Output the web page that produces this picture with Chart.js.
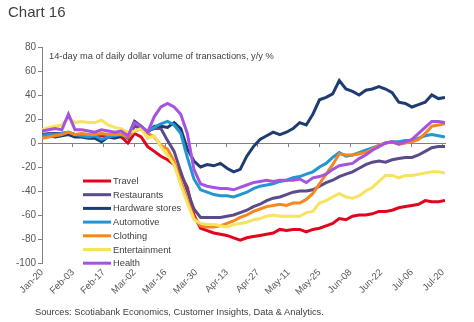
<!DOCTYPE html>
<html>
<head>
<meta charset="utf-8">
<script src="https://cdn.jsdelivr.net/npm/chart.js@4.4.1/dist/chart.umd.min.js"></script>
<style>
  html, body { margin: 0; padding: 0; background: #fff; }
  #wrap { position: relative; width: 474px; height: 322px; font-family: "Liberation Sans", Arial, sans-serif; color: #404040; }
  #title { position: absolute; left: 8px; top: 3px; font-size: 15px; }
  #source { position: absolute; left: 35px; top: 307px; font-size: 9.3px; white-space: nowrap; }
  canvas { position: absolute; left: 0; top: 0; }
</style>
</head>
<body>
<div id="wrap">
  <canvas id="chart16" width="474" height="322"></canvas>
  <div id="title">Chart 16</div>
  <div id="source">Sources: Scotiabank Economics, Customer Insights, Data &amp; Analytics.</div>
</div>
<script>
// days since Jan-20, sampled every 3 days
const days = [0, 3, 6, 9, 12, 15, 18, 21, 24, 27, 30, 33, 36, 39, 42, 45, 48, 51, 54, 57,
  60, 63, 66, 69, 72, 75, 78, 81, 84, 87, 90, 93, 96, 99, 102, 105, 108, 111, 114, 117,
  120, 123, 126, 129, 132, 135, 138, 141, 144, 147, 150, 153, 156, 159, 162, 165, 168, 171, 174, 177,
  180, 183];

const tickDays = [0, 14, 28, 42, 56, 70, 84, 98, 112, 126, 140, 154, 168, 182];
const tickLabels = ["Jan-20", "Feb-03", "Feb-17", "Mar-02", "Mar-16", "Mar-30", "Apr-13",
  "Apr-27", "May-11", "May-25", "Jun-08", "Jun-22", "Jul-06", "Jul-20"];

const travel = [6, 7, 7, 7, 8, 7, 6, 6, 6, 6, 6, 5, 5, 0, 8, 5, -3, -7, -11, -14,
  -18, -26, -37, -60, -71, -73, -75, -76, -77, -79, -81, -79, -78, -77, -76, -75, -72, -73, -72, -72,
  -74, -72, -71, -69, -67, -63, -64, -61, -60, -60, -59, -57, -57, -56, -54, -53, -52, -51, -48, -49,
  -49, -48];
const restaurants = [7, 8, 8, 8, 9, 7, 7, 6, 6, 7, 7, 6, 7, 4, 14, 12, 10, 12, 12, 2,
  -7, -24, -40, -55, -62, -62, -62, -62, -61, -60, -58, -56, -53, -51, -48, -46, -45, -43, -41, -40,
  -40, -39, -36, -33, -31, -28, -26, -24, -21, -18, -16, -15, -16, -14, -13, -12, -12, -10, -7, -4,
  -3, -3];
const hardware = [5, 6, 5, 6, 7, 5, 5, 4, 4, 1, 5, 4, 6, 5, 18, 14, 9, 14, 14, 13,
  17, 12, -5, -15, -20, -18, -19, -17, -21, -24, -22, -11, -3, 3, 6, 9, 7, 9, 12, 17,
  15, 24, 36, 38, 41, 52, 45, 43, 40, 44, 45, 47, 45, 42, 34, 33, 30, 32, 34, 40,
  37, 38];
const automotive = [6, 7, 7, 8, 9, 7, 6, 5, 6, 3, 5, 6, 7, 5, 10, 12, 10, 13, 16, 18,
  15, 8, -12, -30, -39, -41, -43, -44, -44, -45, -43, -41, -38, -36, -35, -34, -32, -31, -29, -28,
  -26, -24, -20, -17, -12, -8, -11, -10, -8, -6, -4, -2, 0, 1, 1, 2, 2, 4, 6, 7,
  6, 5];
const clothing = [4, 5, 6, 7, 9, 7, 8, 7, 7, 8, 7, 7, 7, 5, 10, 12, 8, 5, -2, -5,
  -15, -32, -48, -62, -69, -70, -70, -69, -67, -65, -62, -60, -57, -55, -53, -52, -51, -52, -50, -50,
  -47, -42, -34, -26, -18, -9, -10, -10, -9, -8, -5, -2, 0, 1, -1, 0, 1, 3, 8, 14,
  15, 16];
const entertainment = [11, 13, 14, 15, 21, 17, 18, 17, 17, 19, 15, 13, 12, 9, 10, 12, 4, 6, -3, -10,
  -18, -35, -50, -64, -67, -68, -68, -69, -70, -68, -67, -66, -64, -63, -61, -60, -61, -61, -61, -61,
  -58, -57, -50, -48, -45, -42, -45, -46, -44, -40, -37, -32, -27, -27, -29, -27, -27, -26, -25, -24,
  -24, -25];
const health = [10, 11, 12, 11, 24, 11, 11, 10, 9, 11, 10, 9, 10, 6, 17, 14, 9, 22, 30, 33,
  30, 24, 8, -22, -34, -36, -37, -38, -38, -39, -37, -35, -33, -32, -31, -32, -31, -31, -31, -30,
  -33, -29, -28, -26, -22, -19, -18, -17, -13, -10, -6, -3, 0, 1, -1, 1, 3, 8, 13, 18,
  18, 17];

const seriesNames = ["Travel", "Restaurants", "Hardware stores", "Automotive", "Clothing", "Entertainment", "Health"];
const seriesValues = [travel, restaurants, hardware, automotive, clothing, entertainment, health];
const seriesColors = ["#e2051e", "#5b4b8a", "#1f3c72", "#2196d3", "#f7861f", "#f6e35f", "#a653df"];

const noteText = "14-day ma of daily dollar volume of transactions, y/y %";
const FONT = '"Liberation Sans", Arial, sans-serif';

const datasets = seriesNames.map((name, i) => ({
  label: name,
  data: days.map((d, j) => ({ x: d, y: seriesValues[i][j] })),
  borderColor: seriesColors[i],
  backgroundColor: seriesColors[i],
  borderWidth: 3,
  pointRadius: 0,
  tension: 0,
  order: seriesNames.length - i // later series drawn on top, like the original
}));

// note text and in-plot legend
const overlay = {
  id: "overlay",
  afterDraw(chart) {
    const { ctx, chartArea: a } = chart;
    ctx.save();
    ctx.fillStyle = "#404040";
    ctx.textBaseline = "middle";
    ctx.font = "9.3px " + FONT;
    ctx.fillText(noteText, a.left + 7, a.top + 9);
    ctx.font = "9.3px " + FONT;
    chart.data.datasets.forEach((ds, i) => {
      const y = a.top + 134 + i * 13.7;
      ctx.strokeStyle = ds.borderColor;
      ctx.lineWidth = 3;
      ctx.beginPath();
      ctx.moveTo(a.left + 41, y);
      ctx.lineTo(a.left + 69, y);
      ctx.stroke();
      ctx.fillText(ds.label, a.left + 71, y + 0.5);
    });
    ctx.restore();
  }
};

const config = {
  type: "line",
  data: { datasets: datasets },
  options: {
    responsive: false,
    animation: false,
    layout: { padding: { left: 0, top: 47, right: 29, bottom: 0 } },
    plugins: { legend: { display: false }, tooltip: { enabled: false } },
    scales: {
      x: {
        type: "linear",
        min: 0,
        max: 183,
        afterBuildTicks: (scale) => { scale.ticks = tickDays.map(v => ({ value: v })); },
        afterFit: (scale) => { scale.height = 59; },
        grid: { display: false },
        border: { display: false },
        ticks: {
          minRotation: 45,
          maxRotation: 45,
          padding: -4,
          color: "#595959",
          font: { family: FONT, size: 9.5 },
          callback: (v, i) => tickLabels[i]
        }
      },
      zero: {
        type: "linear",
        axis: "x",
        position: { y: 0 },
        min: 0,
        max: 183,
        afterBuildTicks: (scale) => { scale.ticks = tickDays.map(v => ({ value: v })); },
        grid: { drawOnChartArea: false, drawTicks: true, tickLength: 3, color: "#808080" },
        border: { display: true, color: "#808080", width: 1 },
        ticks: { display: false }
      },
      y: {
        min: -100,
        max: 80,
        afterFit: (scale) => { scale.width = 42; },
        grid: { drawOnChartArea: false, drawTicks: true, tickLength: 4, color: "#808080" },
        border: { display: true, color: "#808080", width: 1 },
        ticks: {
          stepSize: 20,
          padding: 2,
          color: "#595959",
          font: { family: FONT, size: 10 }
        }
      }
    }
  },
  plugins: [overlay]
};

const chart = new Chart(document.getElementById("chart16"), config);
</script>
</body>
</html>
